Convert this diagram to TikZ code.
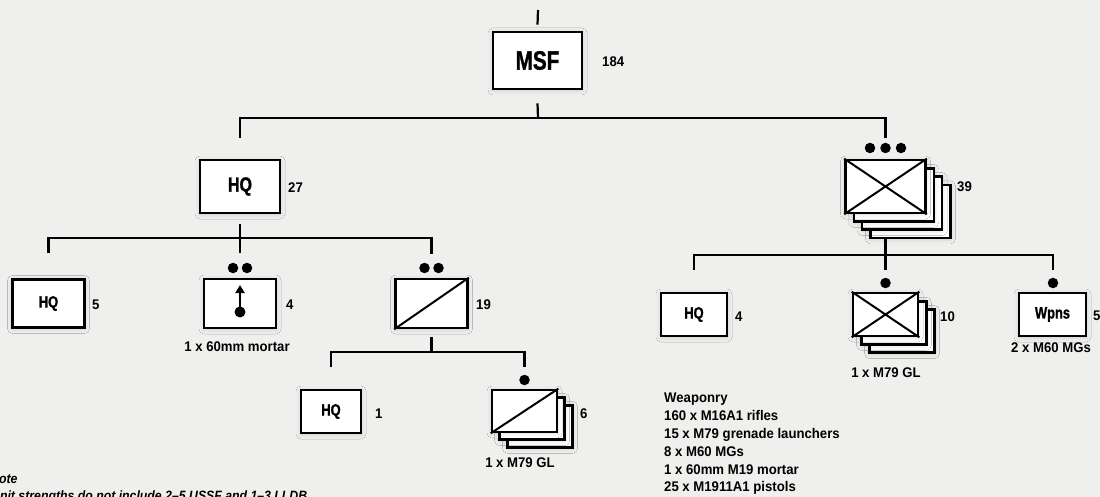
\documentclass[tikz,border=0pt]{standalone}
\usepackage{fontspec}
\newfontfamily\bxf{Liberation Sans Bold}[FakeStretch=0.78, FakeBold=1.2]
\newfontfamily\cpf{Liberation Sans Bold}[FakeStretch=0.94]
\newfontfamily\ntf{Liberation Sans Bold Italic}[FakeStretch=0.91]
\usetikzlibrary{arrows.meta,shadows.blur}
\definecolor{bg}{RGB}{239,239,237}
\tikzset{
  unit/.style={draw, fill=white, line width=2.6pt, inner sep=0pt,
    blur shadow={shadow xshift=0pt, shadow yshift=-1pt, shadow blur radius=5pt, shadow opacity=15}},
  conn/.style={line width=2.2pt},
  symline/.style={line width=2pt},
  dotm/.style={circle, fill=black, inner sep=0pt, minimum size=10.5pt},
  msff/.style={font=\bxf\fontsize{26.5}{28}\selectfont},
  hqbig/.style={font=\bxf\fontsize{20.5}{22}\selectfont},
  hqsm/.style={font=\bxf\fontsize{16.5}{18}\selectfont},
  num/.style={anchor=base west, inner sep=0pt, font=\cpf\fontsize{14}{16}\selectfont},
  capt/.style={anchor=base, inner sep=0pt, font=\cpf\fontsize{14}{16}\selectfont},
  notef/.style={anchor=base west, inner sep=0pt, font=\ntf\fontsize{13.5}{16}\selectfont},
}
\begin{document}
\begin{tikzpicture}[x=1pt,y=-1pt]
\useasboundingbox (0,0) rectangle (1100,497);
\fill[bg] (0,0) rectangle (1100,497);

% ---- top level
\coordinate (top) at (538,10);
\node[unit, msff, minimum width=89, minimum height=57] (msf) at (537.5,60.5) {MSF};
\node[num] at (602,67) {184};
\draw[conn] (top) -- ([yshift=6pt]msf.north);
\coordinate (j1) at (538,118);
\draw[conn] ([yshift=-13pt]msf.south) -- (j1);

% ---- level 2: HQ and company stack
\node[unit, hqbig, minimum width=80, minimum height=53] (hq) at (240,186.5) {HQ};
\node[num] at (288,193) {27};

\node[dotm] (cd1) at (870,148) {};
\node[dotm] (cd2) at (885.5,148) {};
\node[dotm] (cd3) at (901,148) {};
\node[unit, minimum width=80, minimum height=53] (coyD) at (910.4,211.4) {};
\node[unit, minimum width=80, minimum height=53] (coyC) at (902.1,203.1) {};
\node[unit, minimum width=80, minimum height=53] (coyB) at (893.8,194.8) {};
\node[unit, minimum width=80, minimum height=53] (coyA) at (885.5,186.5) {};
\draw[symline] (coyA.south west) -- (coyA.north east) (coyA.north west) -- (coyA.south east);
\node[num] at (957,192) {39};

\draw[conn] ([yshift=21pt]hq.north) |- (j1) -| ([yshift=10pt]cd2.center);

% ---- level 3 left
\coordinate (j2) at (240,238);
\coordinate (mdots) at (240,268);
\coordinate (pdots) at (431.5,268);
\node[dotm] (md1) at (233,268) {};
\node[dotm] (md2) at (247,268) {};
\node[dotm] (pd1) at (424.5,268) {};
\node[dotm] (pd2) at (438.5,268) {};

\node[unit, hqsm, minimum width=72, minimum height=48] (hq5) at (48.5,303.5) {HQ};
\node[num] at (92,309) {5};
\node[unit, minimum width=72, minimum height=49] (mort) at (240,303.5) {};
\node[num] at (286,309) {4};
\fill (240,312) circle (5.5pt);
\draw[line width=2.4pt, -{Triangle[width=9pt,length=8pt]}] (240,312) -- (240,285);
\node[capt] at (237,351) {1 x 60mm mortar};
\node[unit, minimum width=72, minimum height=49] (plt) at (431.5,303.5) {};
\draw[symline] (plt.south west) -- (plt.north east);
\node[num] at (476,309) {19};

\draw[conn] ([yshift=-10pt]hq.south) -- ([yshift=15pt]mdots);
\draw[conn] ([yshift=25pt]hq5.north) |- (j2) -| ([yshift=14pt]pdots);

% ---- level 4 under platoon
\coordinate (j3) at (431.5,352);
\draw[conn] ([yshift=-8pt]plt.south) -- (j3);
\node[unit, hqsm, minimum width=60, minimum height=43] (hq1) at (331,411.5) {HQ};
\node[num] at (375,418) {1};
\node[dotm] (sd) at (524.5,380) {};
\node[unit, minimum width=65, minimum height=42] (sqC) at (540,426.4) {};
\node[unit, minimum width=65, minimum height=42] (sqB) at (532.2,418.7) {};
\node[unit, minimum width=65, minimum height=42] (sqA) at (524.5,411) {};
\draw[symline] (sqA.south west) -- (sqA.north east);
\node[num] at (580,418) {6};
\node[capt] at (520,467) {1 x M79 GL};
\draw[conn] ([yshift=22pt]hq1.north) |- (j3) -| ([yshift=13pt]sd.center);

% ---- level 3 right
\coordinate (j4) at (885.5,255);
\node[dotm] (td) at (885.5,283) {};
\node[dotm] (wd) at (1053,283) {};
\node[unit, hqsm, minimum width=66, minimum height=43] (hq4) at (694,314.5) {HQ};
\node[num] at (735,321) {4};
\node[unit, minimum width=65, minimum height=43] (tmC) at (902.1,331.1) {};
\node[unit, minimum width=65, minimum height=43] (tmB) at (893.8,322.8) {};
\node[unit, minimum width=65, minimum height=43] (tmA) at (885.5,314.5) {};
\draw[symline] (tmA.south west) -- (tmA.north east) (tmA.north west) -- (tmA.south east);
\node[num] at (940,321) {10};
\node[unit, hqsm, minimum width=67, minimum height=43] (wpn) at (1052.5,314.5) {Wpns};
\node[num] at (1093,320) {5};
\node[capt] at (886,377) {1 x M79 GL};
\node[capt] at (1051,352) {2 x M60 MGs};

\draw[conn] (coyA.center |- coyD.south) -- ([yshift=13pt]td.center);
\draw[conn] ([yshift=22pt]hq4.north) |- (j4) -| ([yshift=13pt]wd.center);

% ---- weaponry
\node[anchor=north west, inner sep=0pt, align=left, font=\cpf\fontsize{14}{17.8}\selectfont] (weap) at (664,393)
  {Weaponry\\160 x M16A1 rifles\\15 x M79 grenade launchers\\8 x M60 MGs\\1 x 60mm M19 mortar\\25 x M1911A1 pistols};

% ---- note (cut by the picture's edges, as in the reference)
\node[notef] (note1) at (-10,483) {Note};
\node[notef] (note2) at (-9,500) {Unit strengths do not include 2–5 USSF and 1–3 LLDB};
\end{tikzpicture}
\end{document}
